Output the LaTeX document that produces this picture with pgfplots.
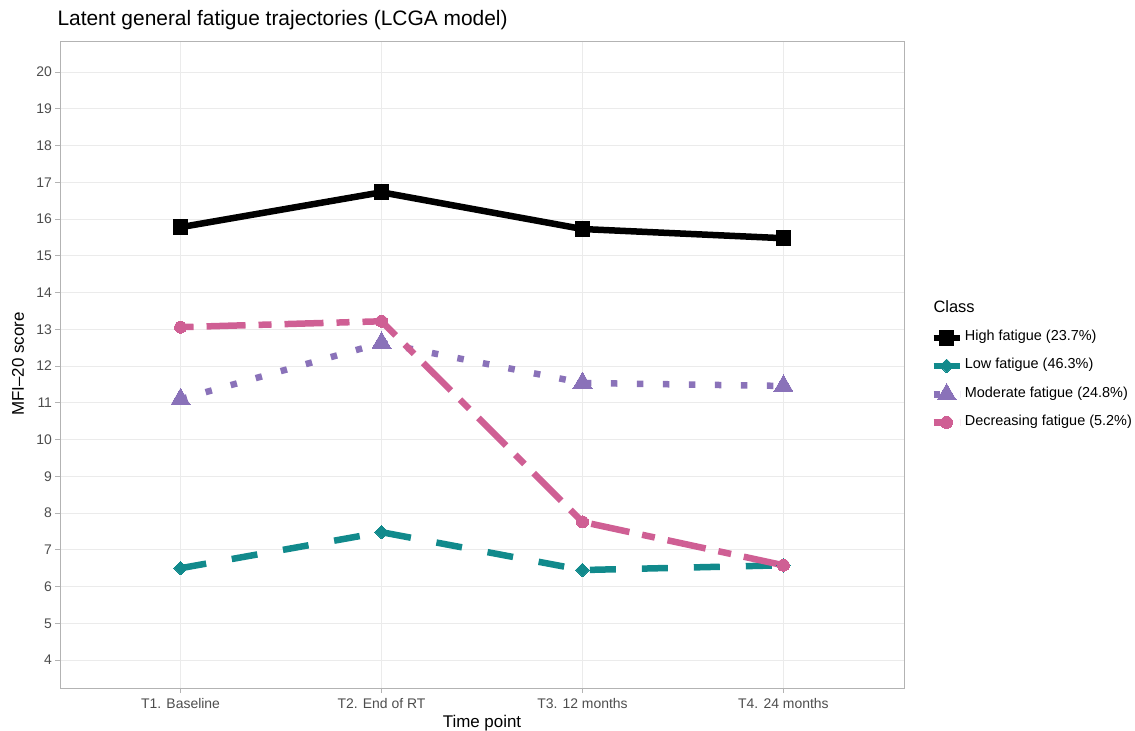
\documentclass[border=0pt]{standalone}
\usepackage{pgfplots}
\pgfplotsset{compat=1.18}
\usepackage{fontspec}
\setmainfont{Liberation Sans}
\definecolor{cteal}{HTML}{118A8C}
\definecolor{cpurple}{HTML}{8A72B9}
\definecolor{cpink}{HTML}{CF5F94}
\definecolor{gridc}{HTML}{EBEBEB}
\definecolor{borderc}{HTML}{B3B3B3}
\definecolor{tickc}{HTML}{4D4D4D}
\begin{document}
\begin{tikzpicture}
\path[use as bounding box] (0,0) rectangle (1135bp,731bp);
\begin{axis}[
  at={(60bp,43bp)}, anchor=south west,
  scale only axis, width=844bp, height=646bp,
  xmin=0.4, xmax=4.6, ymin=3.24, ymax=20.82,
  xtick={1,2,3,4},
  xticklabels={T1. Baseline, T2. End of RT, T3. 12 months, T4. 24 months},
  ytick={4,5,...,20},
  xtick pos=left, ytick pos=left,
  tick align=outside, major tick length=4.5bp,
  grid=major, major grid style={color=gridc, line width=0.9bp},
  axis line style={color=borderc, line width=1bp},
  tick style={color=borderc, line width=1bp},
  ticklabel style={font=\fontsize{14}{16}\selectfont, text=tickc},
  xticklabel style={yshift=-2.5bp},
  /pgf/number format/assume math mode=true,
  xlabel={Time point}, ylabel={MFI--20 score},
  label style={font=\fontsize{17}{20}\selectfont},
  xlabel style={at={(axis description cs:0.5,-0.0604)}, anchor=base},
  ylabel style={at={(axis description cs:-0.0498,0.5015)}, anchor=center, rotate=0},
  title={Latent general fatigue trajectories (LCGA model)},
  title style={at={(axis description cs:-0.0071,1)}, anchor=base west, yshift=10.5bp, font=\fontsize{21}{24}\selectfont},
  legend cell align=left,
  legend style={at={(1.031,0.558)}, anchor=north west, draw=none, fill=none,
    font=\fontsize{14.5}{16}\selectfont, row sep=7.4bp, inner sep=0pt,
    nodes={text height=11bp, text depth=5.5bp},
    /tikz/every even column/.append style={column sep=9bp}},
  legend image code/.code={\draw[mark repeat=2,mark phase=2,#1] plot coordinates {(0bp,0bp) (13bp,0bp) (26bp,0bp)};},
  every axis plot/.append style={line width=6.5bp},
]
\addplot[black, solid, mark=square*, mark size=7.3bp, mark options={solid, line width=0pt}]
  coordinates {(1,15.78) (2,16.73) (3,15.73) (4,15.48)};
\addlegendentry{High fatigue (23.7\%)}
\addplot[cteal, dash pattern=on 26bp off 26bp, mark=square*, mark size=4.8bp, mark options={solid, rotate=45, line width=0pt}]
  coordinates {(1,6.50) (2,7.48) (3,6.45) (4,6.58)};
\addlegendentry{Low fatigue (46.3\%)}
\addplot[cpurple, dash pattern=on 6.5bp off 19.5bp, mark=triangle*, mark size=11bp, mark options={solid, line width=0pt}]
  coordinates {(1,11.10) (2,12.63) (3,11.54) (4,11.46)};
\addlegendentry{Moderate fatigue (24.8\%)}
\addplot[cpink, dash pattern=on 13bp off 13bp on 39bp off 13bp, mark=*, mark size=6bp, mark options={solid, line width=0pt}]
  coordinates {(1,13.06) (2,13.22) (3,7.76) (4,6.58)};
\addlegendentry{Decreasing fatigue (5.2\%)}
\end{axis}
\node[anchor=base west, font=\fontsize{16.5}{19}\selectfont] at (930bp,418bp) {Class};
\end{tikzpicture}
\end{document}
